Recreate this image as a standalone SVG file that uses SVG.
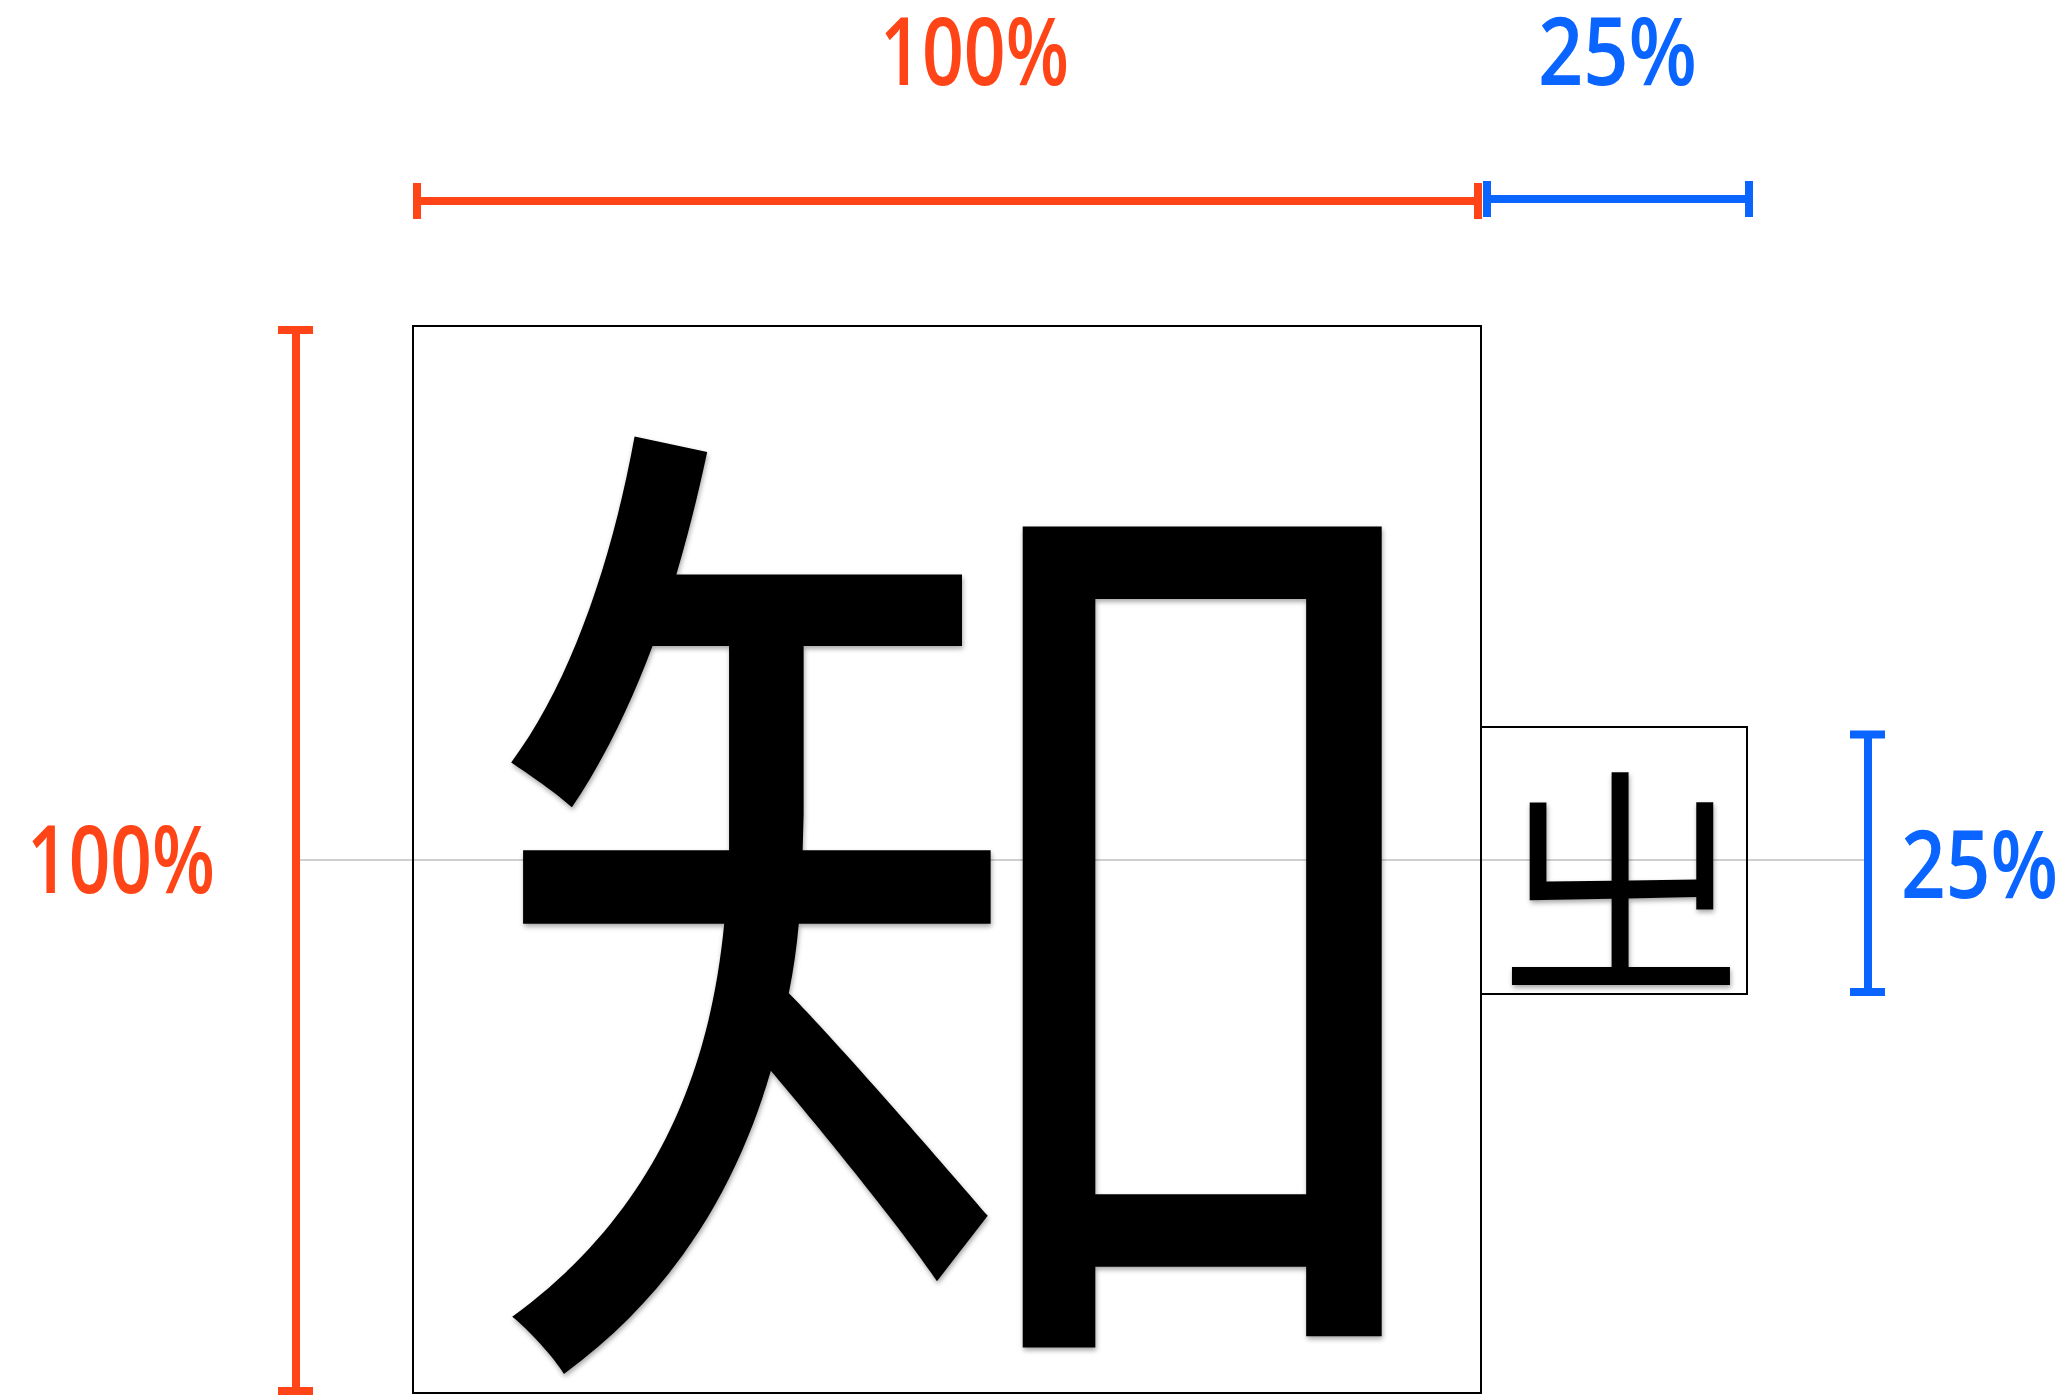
<svg xmlns="http://www.w3.org/2000/svg" width="2069" height="1395" viewBox="0 0 2069 1395">
<style>
.lbl{font-family:"Open Sans",Lato,"Liberation Sans",sans-serif;font-size:94px;font-weight:600}
.red{fill:#FF4517}
.blue{fill:#0A64FF}
.rs{stroke:#FF4517;stroke-width:8;fill:none}
.bs{stroke:#0A64FF;stroke-width:8;fill:none}
.box{fill:none;stroke:#000;stroke-width:2}
.glyph{font-family:"Noto Sans CJK JP","Noto Sans CJK SC","Noto Sans CJK TC",sans-serif;fill:#000}
</style>
<defs>
<filter id="sh" x="-10%" y="-10%" width="120%" height="120%">
<feDropShadow dx="1" dy="3" stdDeviation="3" flood-color="#000" flood-opacity="0.35"/>
</filter>
</defs>
<rect width="2069" height="1395" fill="#fff"/>
<g id="guides">
<line x1="296" y1="860" x2="1867" y2="860" stroke="#CFCFCF" stroke-width="2"/>
</g>
<g id="big-box">
<rect class="box" x="413" y="326" width="1068" height="1067"/>
<text class="glyph" transform="translate(478.4,1295.4) scale(0.9324,0.957)" x="0" y="0" font-size="1067" filter="url(#sh)">知</text>
</g>
<g id="small-box">
<rect class="box" x="1481" y="727" width="266" height="267"/>
<text class="glyph" transform="translate(1495.2,978.3) scale(0.935,0.9375)" x="0" y="0" font-size="267" filter="url(#sh)">㞢</text>
</g>
<g id="connectors">
<path class="rs" d="M417 201H1478M417 183V219M1478 183V219"/>
<path class="bs" d="M1487 199H1749M1487 181V217M1749 181V217"/>
<path class="rs" d="M296 330V1391M278 330H313M278 1391H313"/>
<path class="bs" d="M1868 734V992" stroke-width="10"/>
<path class="bs" d="M1850 734.5H1885M1850 992H1885" stroke-width="9"/>
</g>
<g id="labels">
<text class="lbl red" x="880" y="85" textLength="189" lengthAdjust="spacingAndGlyphs">100%</text>
<text class="lbl blue" x="1538" y="85" textLength="159" lengthAdjust="spacingAndGlyphs">25%</text>
<text class="lbl red" x="27" y="893" textLength="188" lengthAdjust="spacingAndGlyphs">100%</text>
<text class="lbl blue" x="1901" y="898" textLength="157" lengthAdjust="spacingAndGlyphs">25%</text>
</g>
</svg>
